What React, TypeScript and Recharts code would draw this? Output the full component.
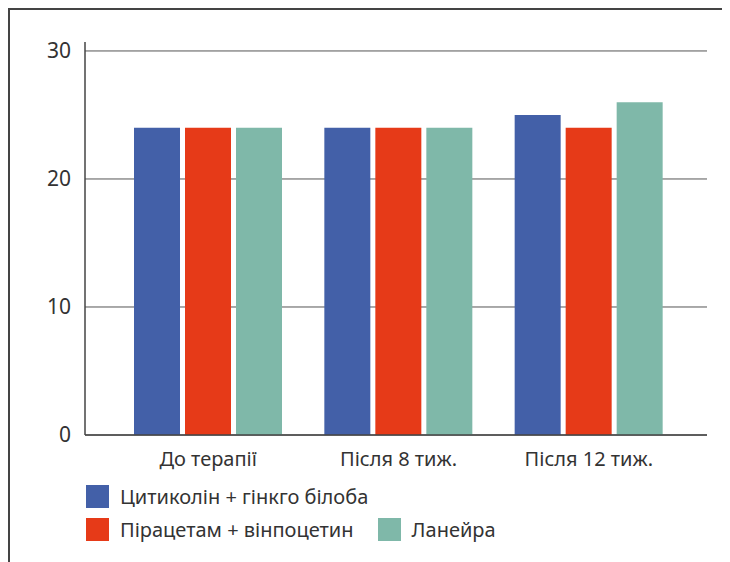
import React from "react";
import { BarChart, Bar, XAxis, YAxis, CartesianGrid, Legend } from "recharts";

// Score by observation point for each treatment group
const categories = ["До терапії", "Після 8 тиж.", "Після 12 тиж."];
const citicolineGinkgo = [24, 24, 25];
const piracetamVinpocetine = [24, 24, 24];
const laneira = [24, 24, 26];
const yTicks = [0, 10, 20, 30];
const yMax = 30.7;

const seriesNames = [
  "Цитиколін + гінкго білоба",
  "Пірацетам + вінпоцетин",
  "Ланейра",
];
const seriesColors = ["#4360A8", "#E63A18", "#7FB8A9"];

const data = categories.map((name, i) => ({
  name,
  a: citicolineGinkgo[i],
  b: piracetamVinpocetine[i],
  c: laneira[i],
}));

const FONT = "'Noto Sans', 'DejaVu Sans', sans-serif";
const TEXT = "#333";

const LegendItem = ({ color, label }: { color: string; label: string }) => (
  <div style={{ display: "flex", alignItems: "center", height: 23, marginRight: 24 }}>
    <div style={{ width: 23, height: 23, background: color, marginRight: 11 }} />
    <span style={{ fontSize: 20, lineHeight: "23px", color: TEXT, fontFamily: FONT, whiteSpace: "nowrap" }}>
      {label}
    </span>
  </div>
);

const renderLegend = () => (
  <div style={{ display: "flex", flexDirection: "column", rowGap: 10 }}>
    <div style={{ display: "flex", height: 23 }}>
      <LegendItem color={seriesColors[0]} label={seriesNames[0]} />
    </div>
    <div style={{ display: "flex", height: 23 }}>
      <LegendItem color={seriesColors[1]} label={seriesNames[1]} />
      <LegendItem color={seriesColors[2]} label={seriesNames[2]} />
    </div>
  </div>
);

// Grid lines only at the labelled ticks (not at the padded top of the domain)
const gridAtTicks = ({ offset }: any) =>
  yTicks.map((t) => offset.top + offset.height * (1 - t / yMax));

export default function App() {
  return (
    <div style={{ position: "relative", width: 722, height: 554 }}>
      <div
        style={{
          position: "absolute",
          left: 0,
          top: 0,
          width: 722,
          height: 554,
          borderTop: "2px solid #444",
          borderLeft: "2px solid #444",
          boxSizing: "border-box",
          pointerEvents: "none",
        }}
      />
      <BarChart
        width={722}
        height={554}
        data={data}
        margin={{ top: 34, right: 23, left: 0, bottom: 97 }}
        barSize={46}
        barGap={5}
      >
        <CartesianGrid
          vertical={false}
          stroke="#555"
          strokeWidth={1}
          horizontalCoordinatesGenerator={gridAtTicks}
        />
        <XAxis
          dataKey="name"
          padding={{ left: 28, right: 23 }}
          axisLine={{ stroke: "#444", strokeWidth: 1.5 }}
          tickLine={false}
          tickSize={0}
          tickMargin={17}
          height={30}
          tick={{ fill: TEXT, fontSize: 20, fontFamily: FONT }}
        />
        <YAxis
          width={77}
          domain={[0, yMax]}
          ticks={yTicks}
          axisLine={{ stroke: "#444", strokeWidth: 1.5 }}
          tickLine={false}
          tickSize={0}
          tickMargin={14}
          tick={{ fill: TEXT, fontSize: 21, fontFamily: FONT }}
        />
        <Legend
          layout="horizontal"
          verticalAlign="middle"
          align="center"
          wrapperStyle={{ left: 78, top: 477, width: 620 }}
          content={renderLegend}
        />
        <Bar dataKey="a" name={seriesNames[0]} fill={seriesColors[0]} isAnimationActive={false} />
        <Bar dataKey="b" name={seriesNames[1]} fill={seriesColors[1]} isAnimationActive={false} />
        <Bar dataKey="c" name={seriesNames[2]} fill={seriesColors[2]} isAnimationActive={false} />
      </BarChart>
    </div>
  );
}
